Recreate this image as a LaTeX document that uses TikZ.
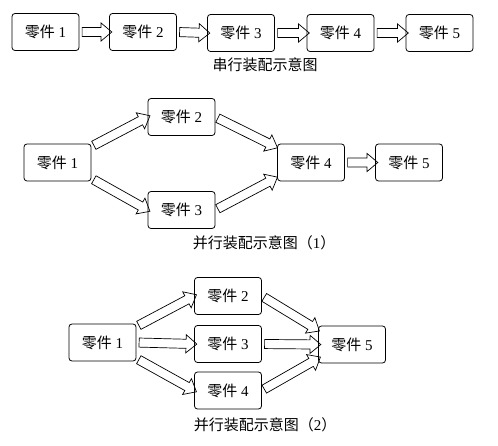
\documentclass[tikz,border=0pt]{standalone}
\usepackage{fontspec}
\setmainfont{Liberation Serif}
\newfontfamily\cjk{Noto Sans CJK SC}
\usetikzlibrary{shapes.arrows,calc}

\tikzset{
  partbox/.style={draw, rounded corners=3pt, line width=0.8pt, minimum width=67pt, minimum height=37pt, inner sep=0pt, font=\fontsize{15}{17}\selectfont},
  figcap/.style={font=\fontsize{15}{17}\selectfont},
  arrowshape/.style={draw, single arrow, line width=0.7pt, single arrow head extend=4.5pt, single arrow tip angle=80, inner xsep=0pt, inner ysep=4.2pt},
  harrow/.style={to path={let \p1=($(\tikztotarget)-(\tikztostart)$), \n1={veclen(\x1,\y1)} in (\tikztostart) -- (\tikztotarget) node[arrowshape, midway, sloped, minimum height=\n1] {}}}
}

\begin{document}
\begin{tikzpicture}[x=1pt,y=-1pt]
\useasboundingbox (0,0) rectangle (498,446);
% serial
\node[partbox] (a1) at (45.5,32) {{\cjk 零件} 1};
\node[partbox] (a2) at (143,32) {{\cjk 零件} 2};
\node[partbox] (a3) at (241,33) {{\cjk 零件} 3};
\node[partbox] (a4) at (340.5,33) {{\cjk 零件} 4};
\node[partbox] (a5) at (439.5,33) {{\cjk 零件} 5};
\node[figcap] (c1) at (265,65) {\cjk 串行装配示意图};
\path (a1.east) to[harrow] (a2.west);
\path (a2.east) to[harrow] (a3.west);
\path (a3.east) to[harrow] (a4.west);
\path (a4.east) to[harrow] (a5.west);

% parallel 1
\node[partbox] (b1) at (57.5,162.5) {{\cjk 零件} 1};
\node[partbox] (b2) at (181.5,117) {{\cjk 零件} 2};
\node[partbox] (b3) at (181.5,210) {{\cjk 零件} 3};
\node[partbox] (b4) at (311,162.5) {{\cjk 零件} 4};
\node[partbox] (b5) at (409,162.5) {{\cjk 零件} 5};
\node[figcap] (c2) at (264,243) {{\cjk 并行装配示意图（}1{\cjk ）}};
\path ([yshift=-3pt]b1.north east) to[harrow] (b2.west);
\path ([yshift=3pt]b1.south east) to[harrow] (b3.west);
\path (b2.east) to[harrow] ([shift={(-2pt,-3pt)}]b4.north west);
\path (b3.east) to[harrow] ([shift={(-2pt,3pt)}]b4.south west);
\path (b4.east) to[harrow] (b5.west);

% parallel 2
\node[partbox] (d1) at (102.5,342.5) {{\cjk 零件} 1};
\node[partbox] (d2) at (228,296) {{\cjk 零件} 2};
\node[partbox] (d3) at (228,344) {{\cjk 零件} 3};
\node[partbox] (d4) at (228,390.5) {{\cjk 零件} 4};
\node[partbox] (d5) at (352,344.5) {{\cjk 零件} 5};
\node[figcap] (c3) at (265,425) {{\cjk 并行装配示意图（}2{\cjk ）}};
\path ([yshift=-3pt]d1.north east) to[harrow] (d2.west);
\path (d1.east) to[harrow] (d3.west);
\path ([yshift=3pt]d1.south east) to[harrow] (d4.west);
\path (d2.east) to[harrow] ([shift={(-1pt,-4pt)}]d5.north west);
\path (d3.east) to[harrow] (d5.west);
\path (d4.east) to[harrow] ([yshift=5pt]d5.south west);
\end{tikzpicture}
\end{document}
